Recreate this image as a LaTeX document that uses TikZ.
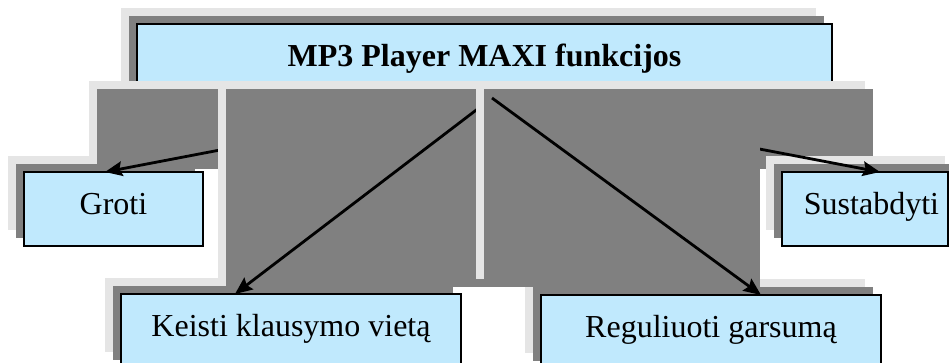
\documentclass[tikz,border=0pt]{standalone}
\usepackage{fontspec}
\setmainfont{Liberation Serif}
\usetikzlibrary{arrows.meta,calc}
\definecolor{lb}{RGB}{192,233,253}
\definecolor{lg}{RGB}{229,229,229}
\definecolor{dg}{RGB}{128,128,128}
\newcommand\bshadow[4]{%
  \fill[lg] ({#1-16},{#2-16}) rectangle ({#3-16},{#4-16});
  \fill[dg] ({#1-8},{#2-8}) rectangle ({#3-8},{#4-8});}
\begin{document}
\begin{tikzpicture}[x=0.75pt,y=-0.75pt,
  box/.style={draw=black, line width=1.5pt, fill=lb, minimum height=55.5pt,
    inner sep=0pt, outer sep=0pt, text height=8.25pt, text depth=0pt,
    font=\fontsize{24pt}{28pt}\selectfont},
  conn/.style={line width=2.1pt, -{Stealth[length=13pt,width=11pt,inset=2pt]}},
  lbl/.style={inner sep=0pt, font=\fontsize{24pt}{28pt}\selectfont}]
\useasboundingbox (0,0) rectangle (949,363);
\clip (0,0) rectangle (949,363);

% main title box
\bshadow{137}{24}{832}{98}
\node[box, minimum width=521.25pt, font=\fontsize{24pt}{28pt}\selectfont\bfseries] (main) at (484.5,61) {MP3 Player MAXI funkcijos};
\coordinate (src) at ($(main.south west)+(355,0)$);

% Groti
\bshadow{24}{172}{203}{246}
\node[box, minimum width=134.25pt] (groti) at (113.5,209) {Groti};
\bshadow{105}{97}{493}{177}
\coordinate (tG) at ($(groti.north west)+(81,0)$);
\draw[conn] (src) -- (tG);

% Keisti
\bshadow{121}{294}{461}{368}
\node[box, minimum width=255pt] (keisti) at (291,331) {Keisti klausymo vietą};
\bshadow{234}{97}{493}{295}
\coordinate (tK) at ($(keisti.north west)+(114,0)$);
\draw[conn] (src) -- (tK);

% Sustabdyti
\bshadow{492}{97}{881}{177}
\bshadow{782}{172}{961}{246}
\node[box, minimum width=124.5pt] (sus) at (865,209) {};
\node[lbl, anchor=base] (sust) at (871.5,214.5) {Sustabdyti};
\coordinate (tS) at ($(sus.north west)+(98,0)$);
\draw[conn] (src) -- (tS);

% Reguliuoti
\bshadow{541}{295}{881}{369}
\node[box, minimum width=255pt] (reg) at (711,332) {Reguliuoti garsumą};
\bshadow{492}{97}{768}{295}
\coordinate (tR) at ($(reg.north west)+(220,0)$);
\draw[conn] (src) -- (tR);
\end{tikzpicture}
\end{document}
